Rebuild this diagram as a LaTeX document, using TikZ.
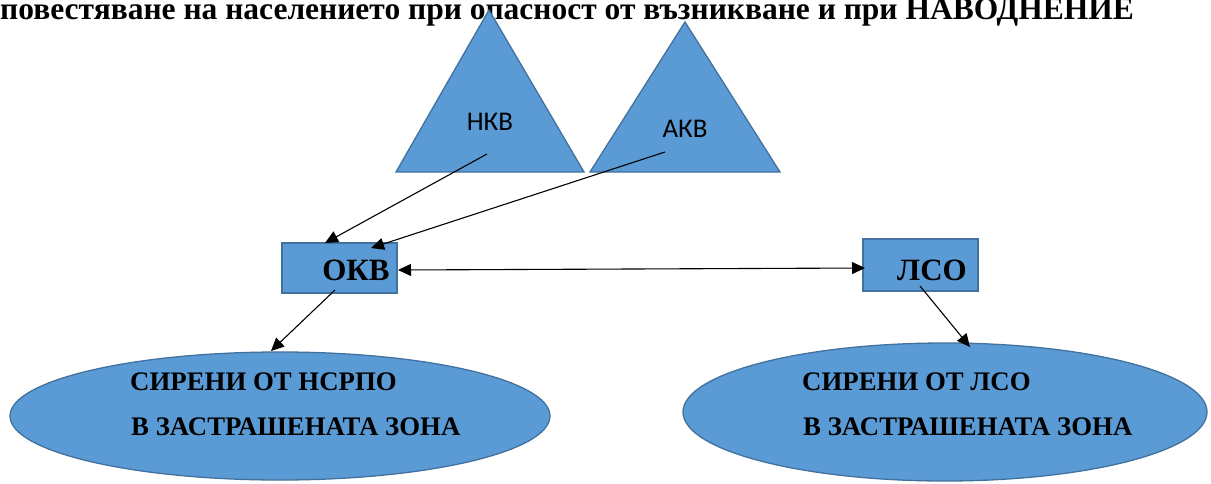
\documentclass[tikz,border=0pt]{standalone}
\usepackage{fontspec}
\setmainfont{Liberation Serif}
\newfontfamily\calib{Carlito}
\usetikzlibrary{arrows.meta}
\definecolor{shapefill}{HTML}{5B9BD5}
\definecolor{shapeline}{HTML}{41719C}
\tikzset{
  shapestyle/.style={fill=shapefill,draw=shapeline,line width=1.3pt,line join=miter},
  conn/.style={line width=1.1pt,-{Triangle[length=13pt,width=12pt]}},
  dconn/.style={line width=1.1pt,{Triangle[length=13pt,width=12pt]}-{Triangle[length=13pt,width=12pt]}},
  boxlbl/.style={font=\fontsize{31}{31}\selectfont\bfseries,inner sep=0pt},
  ellbl/.style={font=\fontsize{26.8}{26.8}\selectfont\bfseries,inner sep=0pt,anchor=base west},
  trilbl/.style={font=\calib\fontsize{27}{27}\selectfont,inner sep=0pt}
}
\begin{document}
\begin{tikzpicture}[x=1pt,y=-1pt]
\clip (0,0) rectangle (1211,483);
\fill[white] (0,0) rectangle (1211,483);
% title
\node[anchor=base west,inner sep=0pt,font=\fontsize{31.5}{31.5}\selectfont\bfseries] (title) at (0,19)
  {повестяване на населението при опасност от възникване и при НАВОДНЕНИЕ};
% triangles
\path[shapestyle] (489,10) -- (584,172) -- (396,172) -- cycle;
\path[shapestyle] (685,22) -- (780,172) -- (590,172) -- cycle;
\node[trilbl] (nkv) at (490,122) {НКВ};
\node[trilbl] (akv) at (685,129) {АКВ};
\coordinate (nkvs) at (487,154);
\coordinate (akvs) at (665,152);
% boxes
\node[shapestyle,minimum width=115pt,minimum height=50pt,inner sep=0pt] (okvbox) at (339.5,268) {};
\node[boxlbl] (okv) at (356,270) {ОКВ};
\node[shapestyle,minimum width=115pt,minimum height=52pt,inner sep=0pt] (lsobox) at (920.5,265) {};
\node[boxlbl] (lso) at (932,270) {ЛСО};
% ellipses
\path[shapestyle] (280,416) ellipse [x radius=270, y radius=64];
\path[shapestyle] (945,412) ellipse [x radius=262, y radius=69];
\node[ellbl] (e1a) at (130,390) {СИРЕНИ ОТ НСРПО};
\node[ellbl] (e1b) at (131,435) {В ЗАСТРАШЕНАТА ЗОНА};
\node[ellbl] (e2a) at (802,390) {СИРЕНИ ОТ ЛСО};
\node[ellbl] (e2b) at (803,435) {В ЗАСТРАШЕНАТА ЗОНА};
% connectors
\coordinate (okvt1) at (325,243);
\coordinate (okvt2) at (371,248);
\coordinate (okvr) at (398,270);
\coordinate (lsol) at (865,268);
\coordinate (okvb) at (335,290);
\coordinate (lsob) at (920,286);
\coordinate (e1t) at (271,351);
\coordinate (e2t) at (970,347);
\draw[conn] (nkvs) -- (okvt1);
\draw[conn] (akvs) -- (okvt2);
\draw[dconn] (okvr) -- (lsol);
\draw[conn] (okvb) -- (e1t);
\draw[conn] (lsob) -- (e2t);
\end{tikzpicture}
\end{document}
